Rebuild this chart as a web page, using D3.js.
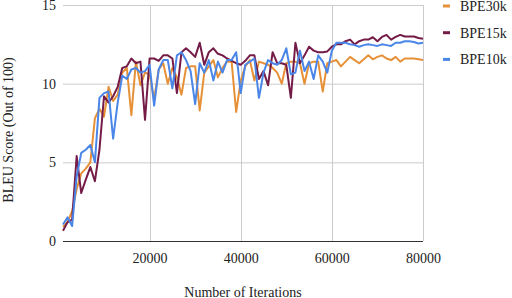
<!doctype html>
<html>
<head>
    <meta charset="utf-8">
    <title>BLEU vs iterations</title>
    <script src="https://d3js.org/d3.v7.min.js"></script>
    <style>
        body { margin: 0; background: #fff; }
        svg text { font-family: "Liberation Serif", "Times New Roman", Times, "DejaVu Serif", serif !important; fill: #222; }
    </style>
</head>
<body>
<svg width="512" height="298"></svg>
<script>
    // iterations (x) for every logged point
    let iterations = [
        1000, 2000, 3000, 4000, 5000, 6000, 7000, 8000, 9000, 10000,
        11000, 12000, 13000, 14000, 15000, 16000, 17000, 18000, 19000, 20000,
        21000, 22000, 23000, 24000, 25000, 26000, 27000, 28000, 29000, 30000,
        31000, 32000, 33000, 34000, 35000, 36000, 37000, 38000, 39000, 40000,
        41000, 42000, 43000, 44000, 45000, 46000, 47000, 48000, 49000, 50000,
        51000, 52000, 53000, 54000, 55000, 56000, 57000, 58000, 59000, 60000,
        61000, 62000, 63000, 64000, 65000, 66000, 67000, 68000, 69000, 70000,
        71000, 72000, 73000, 74000, 75000, 76000, 77000, 78000, 79000, 80000
    ];

    let bpe30k = [
        0.9, 1.2, 1.9, 3.3, 4.3, 4.6, 5.0, 7.8, 8.4, 7.9,
        9.8, 8.9, 9.3, 10.7, 11.0, 8.0, 11.4, 9.9, 10.7, 10.6,
        9.0, 10.9, 11.3, 10.0, 11.0, 10.4, 9.3, 11.0, 11.1, 11.1,
        8.3, 10.7, 11.1, 11.5, 10.4, 11.0, 11.4, 11.4, 8.2, 10.2,
        11.1, 11.5, 10.2, 11.4, 11.3, 11.2, 11.0, 10.7, 10.0, 11.3,
        11.4, 11.4, 11.3, 10.0, 11.3, 11.4, 11.4, 9.5, 11.3, 11.4,
        11.5, 11.1, 11.4, 11.7, 11.5, 11.3, 11.55, 11.8, 11.55, 11.7,
        11.8, 11.6, 11.5, 11.7, 11.4, 11.6, 11.6, 11.6, 11.55, 11.5
    ];

    let bpe15k = [
        0.65, 1.2, 1.35, 5.4, 3.05, 3.9, 4.7, 3.8, 5.8, 9.2,
        8.8, 9.2, 9.8, 11.0, 11.1, 11.6, 11.3, 11.4, 7.7, 11.6,
        11.6, 11.45, 11.8, 11.8, 11.6, 9.4, 12.0, 12.25, 12.0, 11.7,
        12.6, 11.2, 12.0, 12.25, 11.9, 11.8, 11.6, 11.45, 11.3, 11.2,
        11.45, 11.8, 11.8, 10.3, 10.8, 9.9, 12.0, 11.3, 11.3, 11.2,
        9.1, 12.6, 11.3, 11.8, 12.35, 12.1, 12.0, 12.0, 12.05, 12.35,
        12.5, 12.5, 12.7, 12.8, 12.5, 12.7, 12.8, 12.8, 12.95, 12.7,
        12.97, 13.1, 12.8, 12.97, 13.1, 13.0, 13.0, 13.0, 12.9, 12.85
    ];

    let bpe10k = [
        1.05, 1.5, 0.95, 4.1, 5.6, 5.8, 6.1, 5.0, 9.1, 9.4,
        9.5, 6.5, 8.8, 10.5, 10.3, 10.9, 11.0, 10.7, 10.8, 11.2,
        8.6, 10.9, 11.5, 11.5, 9.7, 11.8, 12.0, 11.5, 10.8, 8.7,
        11.3, 10.7, 11.5, 10.2, 11.4, 10.7, 11.5, 11.5, 12.0, 9.4,
        11.2, 11.4, 11.6, 9.1, 10.7, 11.5, 11.3, 11.2, 11.5, 12.25,
        10.6, 10.7, 12.1, 10.8, 11.4, 10.3, 11.8, 11.4, 10.7, 12.1,
        12.6, 12.6, 12.6, 12.5, 12.45, 12.35, 12.45, 12.5, 12.45, 12.4,
        12.5, 12.45, 12.4, 12.6, 12.6, 12.7, 12.7, 12.65, 12.55, 12.6
    ];

    let seriesNames = ["BPE30k", "BPE15k", "BPE10k"];
    let seriesValues = [bpe30k, bpe15k, bpe10k];
    let seriesColors = ["#e69138", "#741b47", "#4a86e8"];

    let xTicks = [20000, 40000, 60000, 80000];
    let yTicks = [0, 5, 10, 15];

    let serif = '"Liberation Serif", "Times New Roman", Times, "DejaVu Serif", serif';

    let svg = d3.select("svg");

    let x = d3.scaleLinear().domain([1000, 80000]).range([63, 423]);
    let y = d3.scaleLinear().domain([0, 15]).range([241, 5]);

    // gridlines
    let grid = svg.append("g").attr("class", "grid");
    grid.selectAll("line.h")
        .data(yTicks.filter(function(d) { return d > 0; }))
        .enter().append("line")
        .attr("x1", x.range()[0]).attr("x2", x.range()[1])
        .attr("y1", function(d) { return y(d) + 0.5; })
        .attr("y2", function(d) { return y(d) + 0.5; })
        .attr("stroke", "#cccccc").attr("stroke-width", 1);
    grid.selectAll("line.v")
        .data(xTicks)
        .enter().append("line")
        .attr("x1", function(d) { return Math.round(x(d)) + 0.5; })
        .attr("x2", function(d) { return Math.round(x(d)) + 0.5; })
        .attr("y1", y(15)).attr("y2", y(0))
        .attr("stroke", "#cccccc").attr("stroke-width", 1);

    // axes (labels only, baseline drawn separately)
    let xAxis = svg.append("g")
        .attr("transform", "translate(0," + y(0) + ")")
        .call(d3.axisBottom(x).tickValues(xTicks).tickSize(0).tickPadding(12).tickFormat(d3.format("d")));
    xAxis.attr("font-family", serif).attr("font-size", 14);
    xAxis.select(".domain").remove();

    let yAxis = svg.append("g")
        .attr("transform", "translate(" + x.range()[0] + ",0)")
        .call(d3.axisLeft(y).tickValues(yTicks).tickSize(0).tickPadding(7));
    yAxis.attr("font-family", serif).attr("font-size", 14);
    yAxis.select(".domain").remove();

    svg.append("line")
        .attr("x1", x.range()[0]).attr("x2", x.range()[1])
        .attr("y1", y(0) + 0.5).attr("y2", y(0) + 0.5)
        .attr("stroke", "#333333").attr("stroke-width", 1);

    // series lines
    let line = d3.line()
        .x(function(d, i) { return x(iterations[i]); })
        .y(function(d) { return y(d); });

    svg.append("g").attr("class", "lines")
        .selectAll("path")
        .data(seriesValues)
        .enter().append("path")
        .attr("d", line)
        .attr("fill", "none")
        .attr("stroke", function(d, i) { return seriesColors[i]; })
        .attr("stroke-width", 2)
        .attr("stroke-linejoin", "round");

    // legend
    let legend = svg.append("g").attr("class", "legend")
        .attr("font-family", serif)
        .selectAll("g")
        .data(seriesNames)
        .enter().append("g")
        .attr("transform", function(d, i) { return "translate(443," + (6 + i * 26.7) + ")"; });
    legend.append("line")
        .attr("x1", 0).attr("x2", 7)
        .attr("stroke", function(d, i) { return seriesColors[i]; })
        .attr("stroke-width", 3);
    legend.append("text")
        .attr("x", 17).attr("y", 5)
        .attr("font-size", 14)
        .text(function(d) { return d; });

    // axis titles
    svg.append("text")
        .attr("x", (x.range()[0] + x.range()[1]) / 2)
        .attr("y", 297)
        .attr("text-anchor", "middle")
        .attr("font-family", serif)
        .attr("font-size", 14)
        .text("Number of Iterations");

    svg.append("text")
        .attr("transform", "translate(13," + 130 + ") rotate(-90)")
        .attr("text-anchor", "middle")
        .attr("font-family", serif)
        .attr("font-size", 14)
        .text("BLEU Score (Out of 100)");
</script>
</body>
</html>
